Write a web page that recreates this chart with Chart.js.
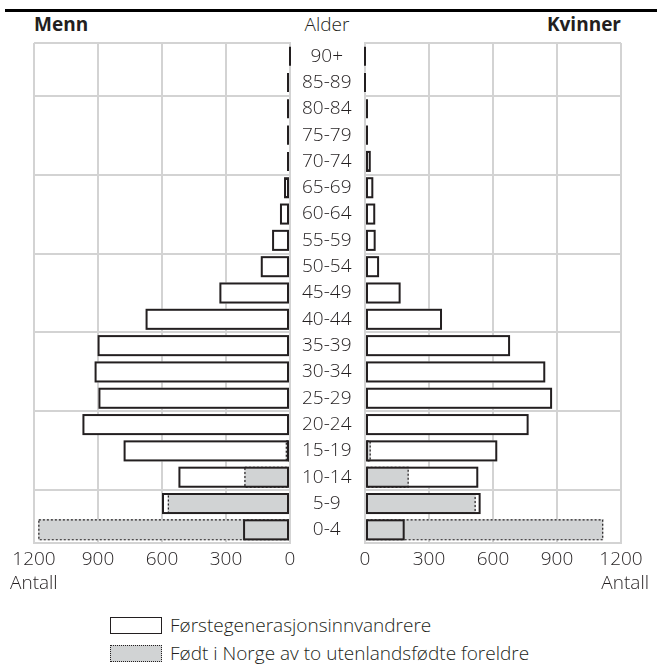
<!DOCTYPE html>
<html>
<head>
<meta charset="utf-8">
<script src="https://cdn.jsdelivr.net/npm/chart.js@4/dist/chart.umd.min.js"></script>
<style>
body { margin: 0; width: 657px; height: 668px; background: #fff; position: relative; overflow: hidden;
       font-family: 'Open Sans', sans-serif; font-weight: 300; color: #231f20; }
.abs { position: absolute; }
#topRule { left: 5px; right: 0; top: 9px; height: 3px; background: #000; }
.hdr { top: 11px; font-size: 19px; line-height: 26px; white-space: nowrap; }
.unit { top: 569px; font-size: 19px; line-height: 26px; }
.legRow { left: 110px; font-size: 19px; line-height: 24px; white-space: nowrap; }
.legBox { display: inline-block; width: 50px; height: 15px; vertical-align: -2px; margin-right: 8px; }
#legFirst { top: 613px; }
#legBorn { top: 641px; }
#legFirst .legBox { border: 1.5px solid #231f20; background: #fff; }
#legBorn .legBox { border: 1.5px dotted #231f20; background: #d1d3d4; }
</style>
</head>
<body>
<div class="abs" id="topRule"></div>
<div class="abs hdr" style="left:34px;font-weight:bold">Menn</div>
<div class="abs hdr" style="left:277px;width:100px;text-align:center">Alder</div>
<div class="abs hdr" style="right:36px;font-weight:bold">Kvinner</div>

<div class="abs" style="left:0;top:0;width:365px;height:573px"><canvas id="menChart"></canvas></div>
<div class="abs" style="left:330px;top:0;width:327px;height:573px"><canvas id="womenChart"></canvas></div>

<div class="abs unit" style="left:10px">Antall</div>
<div class="abs unit" style="right:8px">Antall</div>

<div class="abs legRow" id="legFirst"><span class="legBox"></span>Førstegenerasjonsinnvandrere</div>
<div class="abs legRow" id="legBorn"><span class="legBox"></span>Født i Norge av to utenlandsfødte foreldre</div>

<script>
const ageGroups = ['90+', '85-89', '80-84', '75-79', '70-74', '65-69', '60-64', '55-59', '50-54', '45-49',
    '40-44', '35-39', '30-34', '25-29', '20-24', '15-19', '10-14', '5-9', '0-4'];

// antall, same order as ageGroups (oldest first)
const menFirstGen = [4, 5, 6, 8, 14, 28, 47, 84, 137, 331, 677, 902, 916, 898, 973, 780, 523, 600, 220];
const menBornNorway = [0, 0, 0, 0, 0, 0, 0, 0, 0, 0, 0, 0, 0, 0, 0, 20, 214, 573, 1180];
const womenFirstGen = [3, 3, 5, 12, 27, 39, 48, 50, 66, 167, 361, 680, 845, 877, 767, 620, 531, 542, 186];
const womenBornNorway = [0, 0, 0, 0, 0, 0, 0, 0, 0, 0, 0, 0, 0, 0, 0, 27, 205, 519, 1117];

const xTicks = [0, 300, 600, 900, 1200];

const gridGray = '#d3d3d3';
const inkColor = '#231f20';
const bornFill = '#d1d3d4';
const tickFont = { family: "'Open Sans', sans-serif", size: 19, weight: 300 };

// horizontal lines only every third age group (plus top/bottom)
function rowGridColor(ctx) {
    const i = ctx.index;
    if (i === undefined || i === 0 || i === ageGroups.length) return gridGray;
    return (i - 2) % 3 === 0 ? gridGray : 'rgba(0,0,0,0)';
}

// Chart.js bars can't be dashed, so borders are stroked here from the bar elements
const outlinePlugin = {
    id: 'outlines',
    afterDatasetsDraw(chart) {
        const ctx = chart.ctx;
        ctx.save();
        ctx.strokeStyle = inkColor;

        ctx.setLineDash([2, 2]);
        ctx.lineWidth = 1.2;
        chart.getDatasetMeta(1).data.forEach(bar => {
            const { x, y, base, height } = bar.getProps(['x', 'y', 'base', 'height'], true);
            if (Math.abs(x - base) < 0.5) return;
            ctx.strokeRect(Math.min(x, base) + 0.6, y - height / 2 + 0.6, Math.abs(x - base) - 1.2, height - 1.2);
        });

        ctx.setLineDash([]);
        ctx.lineWidth = 2;
        chart.getDatasetMeta(0).data.forEach(bar => {
            const { x, y, base, height } = bar.getProps(['x', 'y', 'base', 'height'], true);
            let x0 = Math.min(x, base), x1 = Math.max(x, base);
            if (x1 - x0 < 2) {
                if (x < base) x0 = x1 - 2; else x1 = x0 + 2;
            }
            ctx.strokeRect(x0 + 1, y - height / 2 + 1, x1 - x0 - 2, height - 2);
        });
        ctx.restore();
    }
};

function makePanel(canvasId, firstGen, bornNorway, isMen) {
    return new Chart(document.getElementById(canvasId), {
        type: 'bar',
        data: {
            labels: ageGroups,
            datasets: [
                { label: 'Førstegenerasjonsinnvandrere', data: firstGen, backgroundColor: '#ffffff',
                  borderWidth: 0, grouped: false, order: 1 },
                { label: 'Født i Norge av to utenlandsfødte foreldre', data: bornNorway, backgroundColor: bornFill,
                  borderWidth: 0, grouped: false, order: 0 }
            ]
        },
        options: {
            indexAxis: 'y',
            responsive: true,
            maintainAspectRatio: false,
            animation: false,
            barPercentage: 0.8,
            categoryPercentage: 1,
            layout: { padding: isMen ? { left: 34, top: 43, right: 0, bottom: 0 } : { left: 35, top: 43, right: 36, bottom: 0 } },
            plugins: { legend: { display: false }, tooltip: { enabled: false } },
            scales: {
                x: {
                    min: 0, max: 1200, reverse: isMen,
                    afterBuildTicks: scale => { scale.ticks = xTicks.map(v => ({ value: v })); },
                    afterFit: scale => { scale.height = 30; },
                    ticks: { font: tickFont, color: inkColor, padding: 5, maxRotation: 0, callback: v => String(v) },
                    grid: { color: gridGray, lineWidth: 2, drawTicks: false },
                    border: { color: gridGray, width: 2 }
                },
                y: {
                    position: isMen ? 'right' : 'left',
                    afterFit: scale => { scale.width = isMen ? 75 : 0; },
                    ticks: { display: isMen, font: tickFont, color: inkColor, crossAlign: 'center', padding: 12 },
                    grid: { color: rowGridColor, lineWidth: 2, drawTicks: false },
                    border: { color: gridGray, width: 2 }
                }
            }
        },
        plugins: [outlinePlugin]
    });
}

makePanel('menChart', menFirstGen, menBornNorway, true);
makePanel('womenChart', womenFirstGen, womenBornNorway, false);
</script>
</body>
</html>
